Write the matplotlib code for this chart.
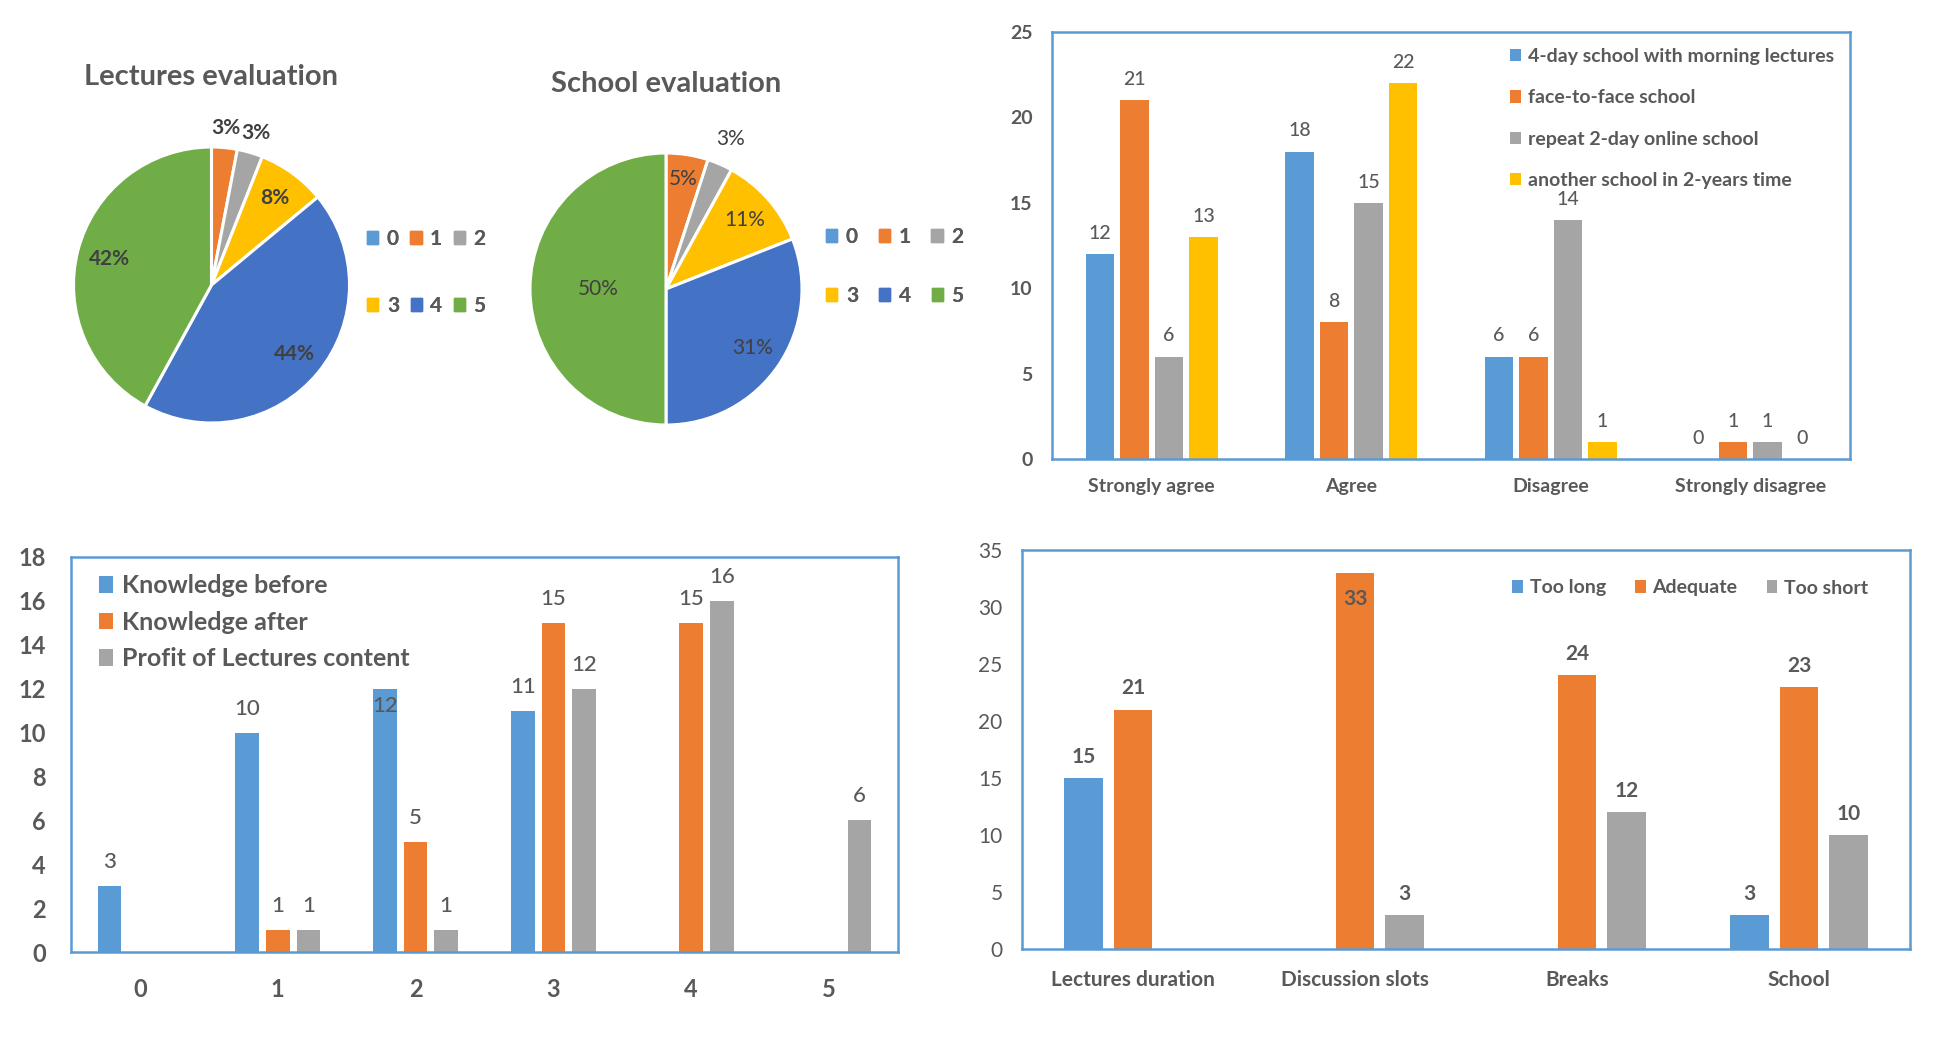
import matplotlib
matplotlib.use("Agg")
import matplotlib.pyplot as plt
from matplotlib.patches import Patch
import numpy as np

plt.rcParams['font.family'] = ['Lato', 'DejaVu Sans']

# ---- data ----
pie_labels = ['0', '1', '2', '3', '4', '5']
lectures_eval = [0, 3, 3, 8, 44, 42]
school_eval = [0, 5, 3, 11, 31, 50]

future_cats = ['Strongly agree', 'Agree', 'Disagree', 'Strongly disagree']
future_series = ['4-day school with morning lectures', 'face-to-face school',
                 'repeat 2-day online school', 'another school in 2-years time']
four_day = [12, 18, 6, 0]
face_to_face = [21, 8, 6, 1]
repeat_online = [6, 15, 14, 1]
another_school = [13, 22, 1, 0]

knowledge_cats = ['0', '1', '2', '3', '4', '5']
knowledge_series = ['Knowledge before', 'Knowledge after', 'Profit of Lectures content']
knowledge_before = [3, 10, 12, 11, 0, 0]
knowledge_after = [0, 1, 5, 15, 15, 0]
profit_content = [0, 1, 1, 12, 16, 6]

timing_cats = ['Lectures duration', 'Discussion slots', 'Breaks', 'School']
timing_series = ['Too long', 'Adequate', 'Too short']
too_long = [15, 0, 0, 3]
adequate = [21, 33, 24, 23]
too_short = [0, 3, 12, 10]

# ---- style ----
W, H = 1934, 1057
BLUE, ORANGE, GRAY, YELLOW = '#5B9BD5', '#ED7D31', '#A5A5A5', '#FFC000'
DBLUE, GREEN = '#4472C4', '#70AD47'
PIE_COLORS = [BLUE, ORANGE, GRAY, YELLOW, DBLUE, GREEN]
TXT = '#595959'
DTXT = '#404040'


def rect(l, t, r, b):
    return [l / W, 1 - b / H, (r - l) / W, (b - t) / H]


def fig_xy(x, y):
    return (x / W, 1 - y / H)


fig = plt.figure(figsize=(W / 100, H / 100), dpi=100)


def draw_pie(box, values, title, title_xy, radii, weight, leg_x, leg_rows, col_spacing):
    ax = fig.add_axes(rect(*box))
    wedges, _ = ax.pie(values, colors=PIE_COLORS, startangle=90, counterclock=False,
                       wedgeprops=dict(edgecolor='white', linewidth=2.2))
    ax.set_xlim(-1, 1)
    ax.set_ylim(-1, 1)
    ax.set_aspect('equal')
    total = sum(values)
    for w, v, r in zip(wedges, values, radii):
        if v == 0:
            continue
        mid = np.deg2rad((w.theta1 + w.theta2) / 2)
        ax.text(r * np.cos(mid), r * np.sin(mid), f"{round(100 * v / total)}%",
                ha='center', va='center', fontsize=15, fontweight=weight, color=DTXT,
                clip_on=False)
    fig.text(*fig_xy(*title_xy), title, ha='center', va='center', fontsize=21,
             fontweight='bold', color=TXT)
    # legend laid out in two rows of three, like the spreadsheet
    for row, y in enumerate(leg_rows):
        idx = range(row * 3, row * 3 + 3)
        leg = fig.legend([Patch(color=PIE_COLORS[i]) for i in idx],
                         [pie_labels[i] for i in idx], ncol=3,
                         loc='center left', bbox_to_anchor=fig_xy(leg_x, y), frameon=False,
                         prop=dict(size=15, weight='bold'), labelcolor=TXT,
                         handlelength=0.55, handleheight=0.55, handletextpad=0.4,
                         columnspacing=col_spacing, borderpad=0, borderaxespad=0)
        fig.add_artist(leg)


draw_pie((73.5, 147, 349.5, 423), lectures_eval, 'Lectures evaluation', (211, 77),
         [0, 1.14, 1.15, 0.78, 0.78, 0.76], 'bold', 367, (239, 306), 0.55)
draw_pie((530, 153, 802, 425), school_eval, 'School evaluation', (666, 84),
         [0, 0.82, 1.2, 0.77, 0.77, 0.5], 'normal', 826, (237, 296), 1.0)


def bar_chart(box, cats, series, names, colors, step, width, ymax, ystep,
              tick_weight, tick_size, cat_weight, cat_size, val_weight, val_size,
              tick_pad, cat_pad, val_offset, skip_zero, label_inside=()):
    ax = fig.add_axes(rect(*box))
    x = np.arange(len(cats))
    n = len(series)
    for i, (vals, name, col) in enumerate(zip(series, names, colors)):
        pos = x + (i - (n - 1) / 2) * step
        bars = ax.bar(pos, vals, width, color=col, label=name, zorder=2)
        for j, (b, v) in enumerate(zip(bars, vals)):
            if skip_zero and v == 0:
                continue
            off = val_offset
            if (i, j) in label_inside:
                off = label_inside[(i, j)]
            ax.annotate(str(v), (b.get_x() + b.get_width() / 2, v),
                        xytext=(0, off), textcoords='offset points',
                        ha='center', va='baseline', fontsize=val_size,
                        fontweight=val_weight, color=TXT, zorder=3)
    ax.set_xlim(-0.5, len(cats) - 0.5)
    ax.set_ylim(0, ymax)
    ax.set_yticks(np.arange(0, ymax + 1, ystep))
    ax.set_xticks(x)
    ax.set_xticklabels(cats)
    ax.tick_params(length=0)
    ax.tick_params(axis='y', pad=tick_pad, labelsize=tick_size, labelcolor=TXT)
    ax.tick_params(axis='x', pad=cat_pad, labelsize=cat_size, labelcolor=TXT)
    for t in ax.get_yticklabels():
        t.set_fontweight(tick_weight)
    for t in ax.get_xticklabels():
        t.set_fontweight(cat_weight)
    for s in ax.spines.values():
        s.set_color(BLUE)
        s.set_linewidth(1.8)
    return ax


# top right: future schools
ax_tr = bar_chart((1052, 32, 1850, 459), future_cats,
                  [four_day, face_to_face, repeat_online, another_school], future_series,
                  [BLUE, ORANGE, GRAY, YELLOW], 0.173, 0.145, 25, 5,
                  'bold', 14, 'bold', 14, 'medium', 14, 14, 14, 11, False)
ax_tr.legend(loc='upper left', bbox_to_anchor=fig_xy(1510, 48),
             bbox_transform=fig.transFigure, frameon=False,
             prop=dict(size=14, weight='bold'), labelcolor=TXT,
             handlelength=0.55, handleheight=0.6, handletextpad=0.35,
             labelspacing=1.25, borderpad=0, borderaxespad=0)

# bottom left: knowledge
ax_bl = bar_chart((71, 557, 898, 952), knowledge_cats,
                  [knowledge_before, knowledge_after, profit_content], knowledge_series,
                  [BLUE, ORANGE, GRAY], 0.222, 0.171, 18, 2,
                  'bold', 17, 'bold', 17, 'medium', 16, 18, 19, 13, True,
                  label_inside={(0, 2): -17})
ax_bl.legend(loc='upper left', bbox_to_anchor=fig_xy(99, 574),
             bbox_transform=fig.transFigure, frameon=False,
             prop=dict(size=18, weight='bold'), labelcolor=TXT,
             handlelength=0.55, handleheight=0.65, handletextpad=0.35,
             labelspacing=0.55, borderpad=0, borderaxespad=0)

# bottom right: timing
ax_br = bar_chart((1022, 550, 1910, 949), timing_cats,
                  [too_long, adequate, too_short], timing_series,
                  [BLUE, ORANGE, GRAY], 0.223, 0.175, 35, 5,
                  'normal', 15, 'bold', 15, 'bold', 15, 14, 15, 11, True,
                  label_inside={(1, 1): -23})
ax_br.legend(loc='center left', bbox_to_anchor=fig_xy(1512, 588),
             bbox_transform=fig.transFigure, frameon=False, ncol=3,
             prop=dict(size=14, weight='bold'), labelcolor=TXT,
             handlelength=0.55, handleheight=0.6, handletextpad=0.35,
             columnspacing=1.5, borderpad=0, borderaxespad=0)

fig.savefig('out.png', dpi=100, facecolor='white')
